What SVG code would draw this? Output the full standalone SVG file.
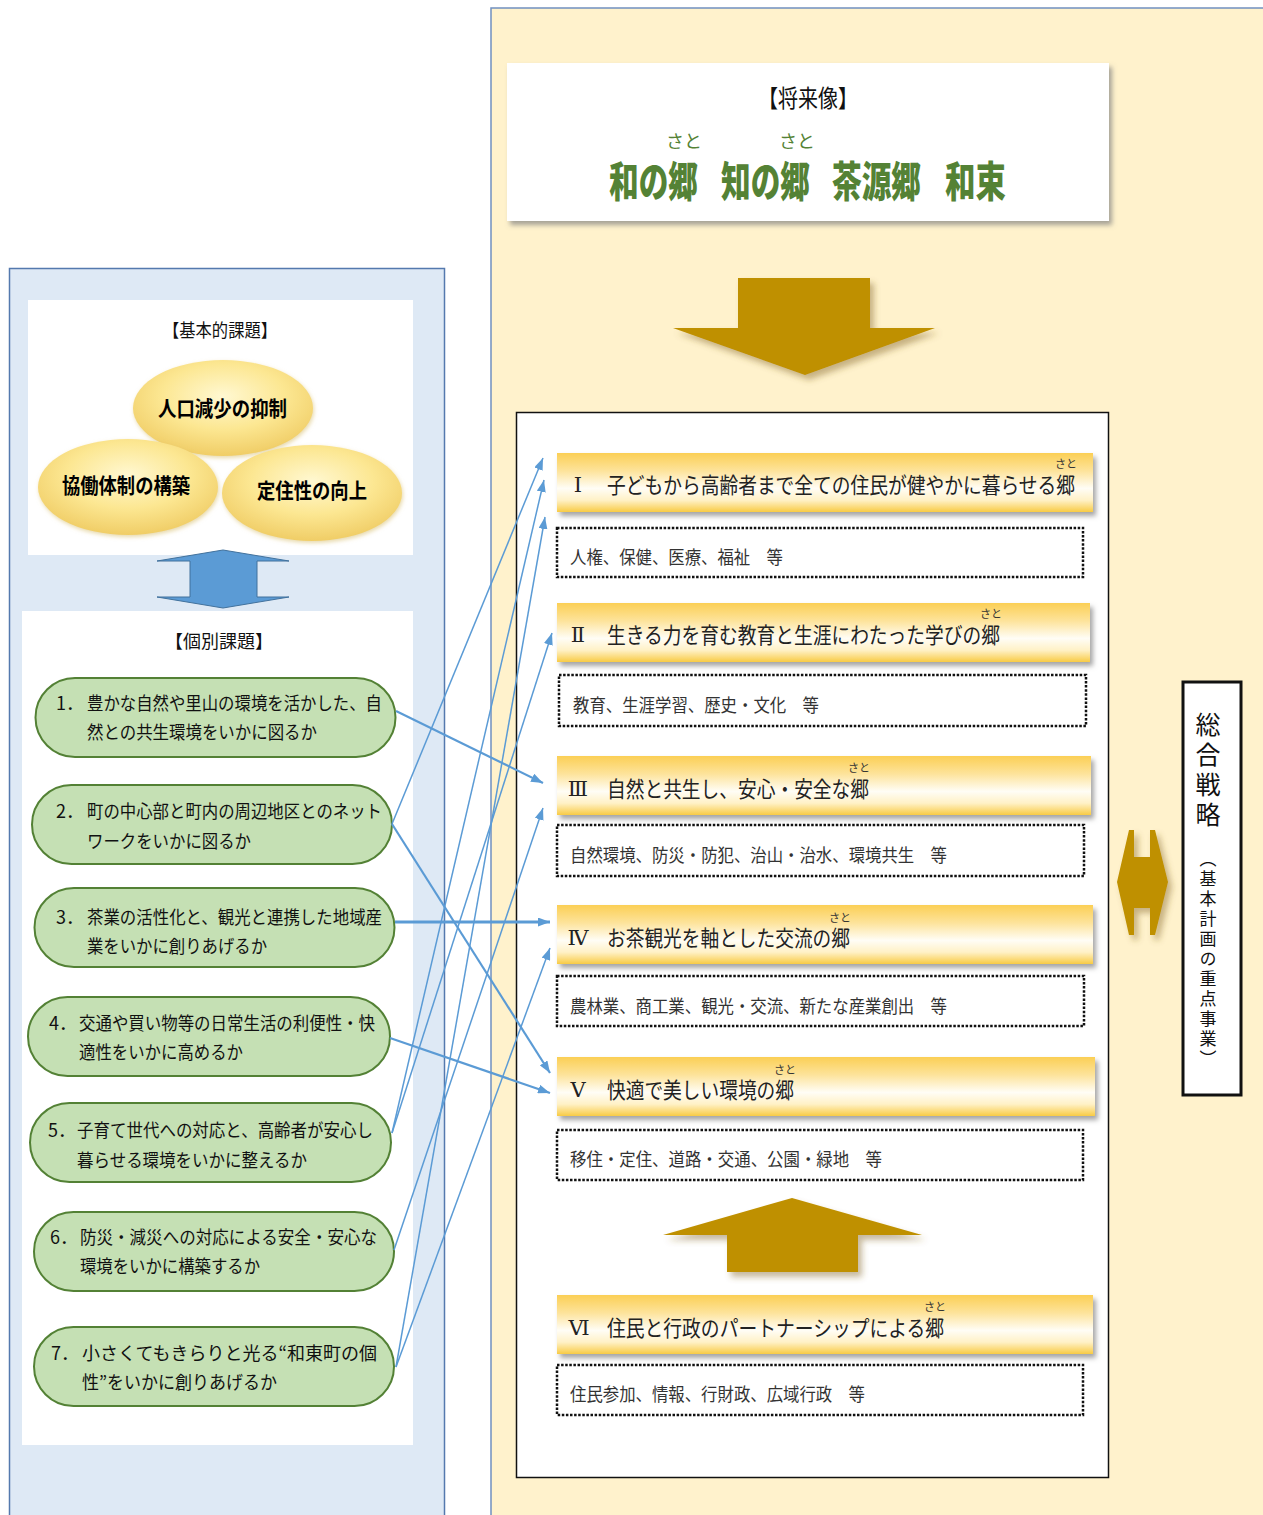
<svg xmlns="http://www.w3.org/2000/svg" width="1263" height="1515" viewBox="0 0 1263 1515">
<defs>
<style>
text{font-family:'Noto Sans CJK JP','Noto Sans CJK SC',sans-serif;}
.pill{fill:#c5e0b4;stroke:#538135;stroke-width:2}
.bar{fill:url(#barG);filter:url(#sh)}
.dot{fill:#fff;stroke:#111;stroke-width:2.5;stroke-dasharray:2.5 1.6}
.conn{fill:none;stroke:#5b9bd5;stroke-width:1.5;marker-end:url(#ah)}
.thick{stroke-width:2.2}
.gold{fill:#bf9000;filter:url(#gsh)}
.bt{font-size:22px;fill:#222}
text.num{font-family:'DejaVu Serif','Liberation Serif','Noto Sans CJK JP',serif;font-size:21px;fill:#222;text-anchor:middle}
.dt{font-size:18px;fill:#333}
.pt{font-size:18px;fill:#111}
.rb{font-size:11px;fill:#333;text-anchor:middle}
.el{font-size:21px;font-weight:700;fill:#000}
.ell{fill:url(#elG);filter:url(#esh)}
.grn{font-size:42px;font-weight:900;fill:#548235}
</style>
<linearGradient id="barG" x1="0" y1="0" x2="0" y2="1">
<stop offset="0" stop-color="#fbcf55"/>
<stop offset="0.3" stop-color="#fde39a"/>
<stop offset="0.6" stop-color="#fffdf6"/>
<stop offset="0.8" stop-color="#fff1c6"/>
<stop offset="1" stop-color="#f8cb45"/>
</linearGradient>
<radialGradient id="elG" cx="0.5" cy="0.38" r="0.62">
<stop offset="0" stop-color="#fff8d2"/>
<stop offset="0.55" stop-color="#fce792"/>
<stop offset="1" stop-color="#f0cd66"/>
</radialGradient>
<filter id="sh" x="-5%" y="-20%" width="115%" height="160%"><feDropShadow dx="3" dy="4" stdDeviation="2.5" flood-color="#7f7f7f" flood-opacity="0.7"/></filter>
<filter id="gsh" x="-20%" y="-20%" width="150%" height="150%"><feDropShadow dx="4" dy="5" stdDeviation="3" flood-color="#806020" flood-opacity="0.45"/></filter>
<filter id="esh" x="-10%" y="-10%" width="125%" height="130%"><feDropShadow dx="1" dy="2" stdDeviation="2" flood-color="#d8c070" flood-opacity="0.6"/></filter>
<marker id="ah" viewBox="0 0 12 9" refX="12" refY="4.5" markerWidth="12" markerHeight="9" markerUnits="userSpaceOnUse" orient="auto">
<path d="M0,0 L12,4.5 L0,9 z" fill="#5b9bd5"/>
</marker>
</defs>

<rect width="1263" height="1515" fill="#fff"/>

<g id="left-panel">
<rect x="9.5" y="268.5" width="435" height="1270" fill="#dee9f5" stroke="#5479ae" stroke-width="1.5"/>
<rect x="28" y="300" width="385" height="255" fill="#fff"/>
<rect x="22" y="611" width="391" height="834" fill="#fff"/>
</g>

<g id="right-panel">
<rect x="491" y="8" width="800" height="1530" fill="#fff2cc" stroke="#7090c0" stroke-width="1.5"/>
</g>

<g id="future-vision">
<rect x="507" y="63" width="602" height="158" fill="#fff" filter="url(#sh)"/>
<text x="808" y="107" font-size="24" fill="#111" text-anchor="middle" textLength="100" lengthAdjust="spacingAndGlyphs">【将来像】</text>
<text x="684" y="148" font-size="18" fill="#548235" text-anchor="middle">さと</text>
<text x="797" y="148" font-size="18" fill="#548235" text-anchor="middle">さと</text>
<text class="grn" x="609" y="197" textLength="89" lengthAdjust="spacingAndGlyphs">和の郷</text>
<text class="grn" x="721" y="197" textLength="89" lengthAdjust="spacingAndGlyphs">知の郷</text>
<text class="grn" x="832" y="197" textLength="89" lengthAdjust="spacingAndGlyphs">茶源郷</text>
<text class="grn" x="945" y="197" textLength="61" lengthAdjust="spacingAndGlyphs">和束</text>
</g>

<g id="down-arrow">
<polygon class="gold" points="738,278 870,278 870,328 935,328 805,375 673,328 738,328"/>
</g>

<g id="basic-issues">
<text x="220" y="337" font-size="18" fill="#111" text-anchor="middle" textLength="114" lengthAdjust="spacingAndGlyphs">【基本的課題】</text>
<g id="issue-population">
<ellipse class="ell" cx="223" cy="408" rx="90" ry="48"/>
<text class="el" x="158" y="416" textLength="129" lengthAdjust="spacingAndGlyphs">人口減少の抑制</text>
</g>
<g id="issue-cooperation">
<ellipse class="ell" cx="128" cy="487" rx="90" ry="48"/>
<text class="el" x="62" y="493" textLength="128" lengthAdjust="spacingAndGlyphs">協働体制の構築</text>
</g>
<g id="issue-settlement">
<ellipse class="ell" cx="312" cy="493" rx="90" ry="48"/>
<text class="el" x="257" y="498" textLength="110" lengthAdjust="spacingAndGlyphs">定住性の向上</text>
</g>
</g>

<g id="blue-double-arrow">
<polygon points="157,561 223,550 289,561 257,561 257,597 289,597 223,608 157,597 190,597 190,561" fill="#5b9bd5" stroke="#41719c" stroke-width="1"/>
</g>

<g id="individual-issues">
<text x="219" y="648" font-size="18" fill="#111" text-anchor="middle" textLength="108" lengthAdjust="spacingAndGlyphs">【個別課題】</text>
<g id="p1">
<rect class="pill" x="35.5" y="678" width="360" height="79" rx="39.5"/>
<text class="pt" x="56" y="710">1．</text>
<text class="pt" x="87" y="710" textLength="295" lengthAdjust="spacingAndGlyphs">豊かな自然や里山の環境を活かした、自</text>
<text class="pt" x="87" y="739" textLength="230" lengthAdjust="spacingAndGlyphs">然との共生環境をいかに図るか</text>
</g>
<g id="p2">
<rect class="pill" x="32" y="785" width="360" height="79" rx="39.5"/>
<text class="pt" x="56" y="818">2．</text>
<text class="pt" x="87" y="818" textLength="295" lengthAdjust="spacingAndGlyphs">町の中心部と町内の周辺地区とのネット</text>
<text class="pt" x="87" y="848" textLength="164" lengthAdjust="spacingAndGlyphs">ワークをいかに図るか</text>
</g>
<g id="p3">
<rect class="pill" x="34.5" y="888" width="360" height="79" rx="39.5"/>
<text class="pt" x="56" y="924">3．</text>
<text class="pt" x="87" y="924" textLength="295" lengthAdjust="spacingAndGlyphs">茶業の活性化と、観光と連携した地域産</text>
<text class="pt" x="87" y="953" textLength="180" lengthAdjust="spacingAndGlyphs">業をいかに創りあげるか</text>
</g>
<g id="p4">
<rect class="pill" x="28" y="997" width="362" height="79" rx="39.5"/>
<text class="pt" x="49" y="1030">4．</text>
<text class="pt" x="79" y="1030" textLength="296" lengthAdjust="spacingAndGlyphs">交通や買い物等の日常生活の利便性・快</text>
<text class="pt" x="79" y="1059" textLength="164" lengthAdjust="spacingAndGlyphs">適性をいかに高めるか</text>
</g>
<g id="p5">
<rect class="pill" x="30" y="1103" width="361" height="79" rx="39.5"/>
<text class="pt" x="48" y="1137">5．</text>
<text class="pt" x="77" y="1137" textLength="296" lengthAdjust="spacingAndGlyphs">子育て世代への対応と、高齢者が安心し</text>
<text class="pt" x="77" y="1167" textLength="230" lengthAdjust="spacingAndGlyphs">暮らせる環境をいかに整えるか</text>
</g>
<g id="p6">
<rect class="pill" x="34" y="1212" width="360" height="79" rx="39.5"/>
<text class="pt" x="50" y="1244">6．</text>
<text class="pt" x="80" y="1244" textLength="297" lengthAdjust="spacingAndGlyphs">防災・減災への対応による安全・安心な</text>
<text class="pt" x="80" y="1273" textLength="180" lengthAdjust="spacingAndGlyphs">環境をいかに構築するか</text>
</g>
<g id="p7">
<rect class="pill" x="34" y="1327" width="360" height="79" rx="39.5"/>
<text class="pt" x="51" y="1360">7．</text>
<text class="pt" x="82" y="1360" textLength="295" lengthAdjust="spacingAndGlyphs">小さくてもきらりと光る“和東町の個</text>
<text class="pt" x="82" y="1389" textLength="195" lengthAdjust="spacingAndGlyphs">性”をいかに創りあげるか</text>
</g>
</g>

<g id="policy-box">
<rect x="516.5" y="412.5" width="592" height="1065" fill="#fff" stroke="#111" stroke-width="1.5"/>
</g>

<g id="policy-1">
<rect class="bar" x="557" y="453" width="536" height="59"/>
<text class="num" x="578" y="492">Ⅰ</text>
<text class="bt" x="607" y="493" textLength="468" lengthAdjust="spacingAndGlyphs">子どもから高齢者まで全ての住民が健やかに暮らせる郷</text>
<text class="rb" x="1066" y="468">さと</text>
<rect class="dot" x="557" y="528" width="526" height="49"/>
<text class="dt" x="570" y="564" textLength="213" lengthAdjust="spacingAndGlyphs">人権、保健、医療、福祉　等</text>
</g>
<g id="policy-2">
<rect class="bar" x="557" y="603" width="533" height="59"/>
<text class="num" x="578" y="642">Ⅱ</text>
<text class="bt" x="607" y="643" textLength="393" lengthAdjust="spacingAndGlyphs">生きる力を育む教育と生涯にわたった学びの郷</text>
<text class="rb" x="991" y="618">さと</text>
<rect class="dot" x="559" y="675" width="527" height="51"/>
<text class="dt" x="573" y="712" textLength="246" lengthAdjust="spacingAndGlyphs">教育、生涯学習、歴史・文化　等</text>
</g>
<g id="policy-3">
<rect class="bar" x="557" y="756" width="534" height="59"/>
<text class="num" x="578" y="796">Ⅲ</text>
<text class="bt" x="607" y="797" textLength="262" lengthAdjust="spacingAndGlyphs">自然と共生し、安心・安全な郷</text>
<text class="rb" x="859" y="772">さと</text>
<rect class="dot" x="557" y="825" width="527" height="51"/>
<text class="dt" x="570" y="862" textLength="377" lengthAdjust="spacingAndGlyphs">自然環境、防災・防犯、治山・治水、環境共生　等</text>
</g>
<g id="policy-4">
<rect class="bar" x="557" y="905" width="536" height="59"/>
<text class="num" x="578" y="945">Ⅳ</text>
<text class="bt" x="607" y="946" textLength="243" lengthAdjust="spacingAndGlyphs">お茶観光を軸とした交流の郷</text>
<text class="rb" x="840" y="922">さと</text>
<rect class="dot" x="557" y="976" width="527" height="50"/>
<text class="dt" x="570" y="1013" textLength="377" lengthAdjust="spacingAndGlyphs">農林業、商工業、観光・交流、新たな産業創出　等</text>
</g>
<g id="policy-5">
<rect class="bar" x="557" y="1057" width="538" height="59"/>
<text class="num" x="578" y="1097">Ⅴ</text>
<text class="bt" x="607" y="1098" textLength="187" lengthAdjust="spacingAndGlyphs">快適で美しい環境の郷</text>
<text class="rb" x="785" y="1074">さと</text>
<rect class="dot" x="557" y="1130" width="526" height="50"/>
<text class="dt" x="570" y="1166" textLength="312" lengthAdjust="spacingAndGlyphs">移住・定住、道路・交通、公園・緑地　等</text>
</g>

<g id="up-arrow">
<polygon class="gold" points="792,1198 922,1235 858,1235 858,1272 727,1272 727,1235 663,1235"/>
</g>

<g id="policy-6">
<rect class="bar" x="557" y="1295" width="536" height="59"/>
<text class="num" x="579" y="1335">Ⅵ</text>
<text class="bt" x="607" y="1336" textLength="337" lengthAdjust="spacingAndGlyphs">住民と行政のパートナーシップによる郷</text>
<text class="rb" x="935" y="1311">さと</text>
<rect class="dot" x="557" y="1365" width="526" height="50"/>
<text class="dt" x="570" y="1401" textLength="295" lengthAdjust="spacingAndGlyphs">住民参加、情報、行財政、広域行政　等</text>
</g>

<g id="gold-double-arrow">
<polygon class="gold" points="1117,882 1129,830 1134,830 1134,857 1150,857 1150,830 1155,830 1168,882 1155,935 1150,935 1150,908 1134,908 1134,935 1129,935"/>
</g>

<g id="strategy">
<rect x="1183" y="682" width="58" height="413" fill="#fff" stroke="#111" stroke-width="3"/>
<text x="1208" y="712" font-size="25" fill="#111" style="writing-mode:vertical-rl" letter-spacing="5">総合戦略</text>
<text x="1208" y="850" font-size="17" fill="#111" style="writing-mode:vertical-rl" letter-spacing="3">（基本計画の重点事業）</text>
</g>

<g id="connectors">
<path class="conn thick" d="M396,711 L543,783"/>
<path class="conn" d="M392,824 L543,458"/>
<path class="conn thick" d="M392,824 L550,1073"/>
<path class="conn thick" style="stroke-width:3" d="M395,922 L550,922"/>
<path class="conn thick" d="M390,1038 L550,1093"/>
<path class="conn" d="M392,1133 L544,480"/>
<path class="conn" d="M392,1133 L552,633"/>
<path class="conn" d="M394,1250 L543,808"/>
<path class="conn" d="M396,1367 L545,517"/>
<path class="conn" d="M396,1367 L550,948"/>
</g>
</svg>
